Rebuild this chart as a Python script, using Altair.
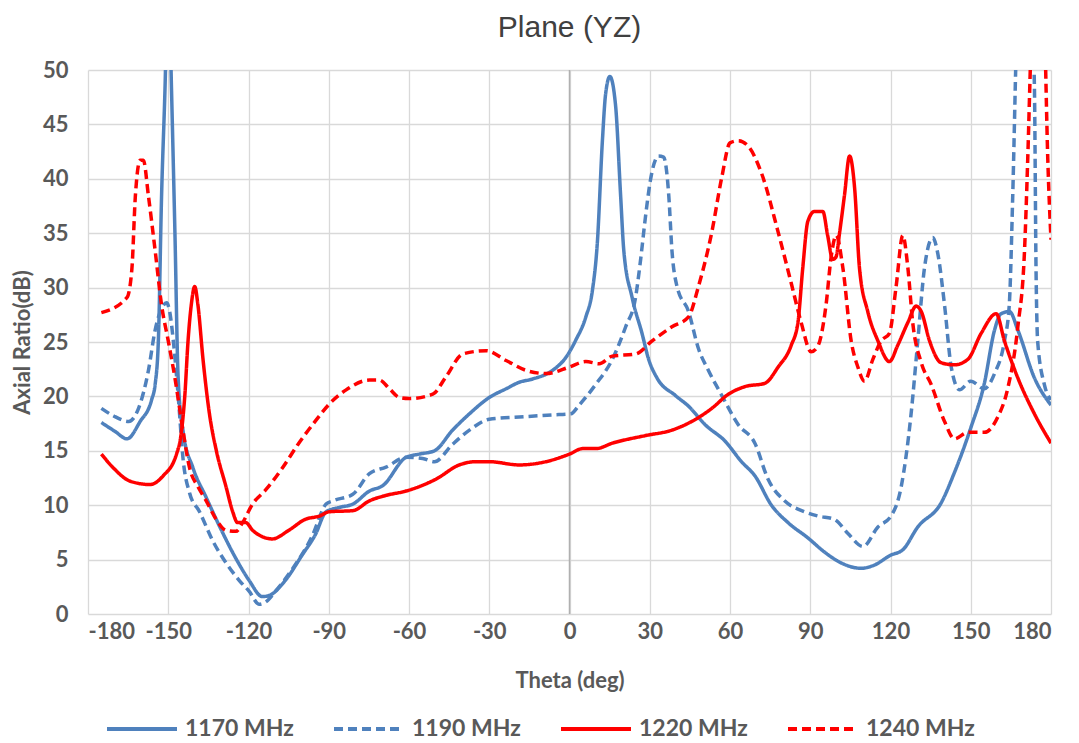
import altair as alt
import pandas as pd

series_names = ["1170 MHz", "1190 MHz", "1220 MHz", "1240 MHz"]

theta_1170 = [-175, -170, -165.4, -160.5, -156.2, -154.9, -153.7, -152.5, -151.2, -150, -148.8, -147.5, -146.3,
              -144.4, -140.7, -135.8, -130.9, -124.7, -119.8, -114.8, -112.3, -106.2, -100, -95, -91, -86, -81,
              -74.8, -69.8, -61.1, -56.1, -50.5, -43.7, -37.4, -30, -23.7, -18.8, -13.8, -6.3, -1.3, 2.4, 6.1,
              8.6, 10.4, 12.3, 13.5, 15.1, 17.2, 19.1, 20.3, 23.4, 27.1, 29.6, 32.7, 39.5, 44.5, 50.7, 58.1,
              64.3, 69.3, 75.5, 81.7, 89.1, 95.3, 101.5, 109, 114, 120, 124.6, 130.2, 138.9, 143.9, 150, 155,
              158.9, 161.3, 164.5, 167.6, 173.8, 180]
ar_1170 = [17.6, 16.8, 16.1, 17.7, 19.7, 21.1, 25.1, 38.4, 48.4, 60, 48.4, 35, 21.7,
           16.7, 13.4, 10.7, 8.1, 5.1, 3.1, 1.6, 1.7, 3.1, 5.4, 7.3, 9.4, 9.8, 10.1,
           11.3, 11.8, 14.4, 14.7, 15.0, 16.9, 18.4, 19.9, 20.7, 21.3, 21.6, 22.4, 23.6, 25.2, 27.3,
           29.8, 34.1, 43.5, 47.8, 49.4, 46.8, 38.5, 33.4, 29.1, 25.8, 23.4, 21.7, 20.1, 19.1, 17.4, 15.9,
           14.0, 12.7, 10.0, 8.4, 7.0, 5.7, 4.7, 4.2, 4.5, 5.4, 5.9, 8.0, 10.2, 13.0, 17.1, 21.1,
           26.1, 27.6, 27.8, 26.1, 21.7, 19.2]

theta_1190 = [-175, -170.4, -164.8, -161.1, -157.4, -154.9, -153.1, -150.6, -149.4, -148.1, -146.3, -144.4,
              -142, -138.3, -133.3, -128.4, -123.5, -119.8, -116, -113.6, -109.9, -103.7, -96.3, -91, -88.5,
              -81, -74.8, -68.6, -61.1, -54.9, -50.5, -43.7, -37.4, -30, -18.8, -6.3, 0.5, 3.6, 9.8, 16, 21,
              24.7, 26.5, 28.4, 30.2, 33.3, 35.2, 37.1, 38.3, 40.2, 44.5, 48.2, 51.9, 56.9, 63.1, 69.3, 74.2,
              80.4, 87.9, 93, 99, 104.1, 109.7, 115.3, 120.2, 124, 127.7, 130.2, 132.7, 135.8, 137.7, 140.2,
              142.7, 145.8, 150, 155, 158.9, 162.6, 164.4, 165.7, 167, 170.5, 173.8, 174.4, 175, 177.5, 180]
ar_1190 = [18.9, 18.2, 17.7, 18.9, 22.4, 26.1, 27.7, 28.6, 27.7, 25.1, 20.1, 14.1,
           11.1, 9.4, 6.7, 4.7, 3.1, 2.1, 0.9, 1.1, 2.1, 4.1, 7.1, 10.1, 10.4,
           11.0, 12.9, 13.5, 14.4, 14.3, 14.0, 15.6, 16.9, 17.9, 18.1, 18.3, 18.4, 19.2, 21.1, 23.4, 26.4,
           29.1, 32.4, 36.5, 39.8, 42.1, 42.0, 38.5, 33.4, 30.1, 27.8, 24.4, 22.4, 20.1, 17.4, 15.7, 12.4,
           10.4, 9.4, 9.0, 8.7, 7.4, 6.2, 8.0, 9.0, 11.7, 18.4, 25.1, 31.8, 34.6, 33.1, 28.4,
           22.7, 20.6, 21.4, 20.7, 22.1, 25.1, 28.4, 38.5, 52, 70, 48.5, 31.8, 25.1, 21.1, 19.7]

theta_1220 = [-175, -170.4, -164.2, -156.8, -151.9, -146.9, -145.1, -143.8, -142.6, -141.4, -140.1, -138.9,
              -137, -134.6, -132.1, -128.4, -125.9, -124.1, -121, -118.5, -114.8, -111.1, -104.9, -98.8,
              -93.5, -89.8, -81, -74.8, -68.6, -61.1, -49.9, -41.2, -35, -30, -18.8, -8.8, 0, 4.9, 9.9, 16,
              28.4, 38.3, 45.7, 53.2, 59.4, 65.6, 73, 78, 82.9, 85.4, 87.2, 89.1, 91.6, 94.7, 96.5, 98.4,
              99.6, 101, 102.8, 104.7, 106.6, 108.4, 111.5, 115.3, 119.6, 122.7, 126.5, 129.6, 131.5, 134.6,
              138.9, 143.9, 148.9, 153.9, 159.5, 162.6, 167.6, 173.8, 180]
ar_1220 = [14.7, 13.4, 12.2, 11.9, 12.7, 14.7, 16.7, 20.1, 25.1, 28.4, 30.1, 28.4,
           23.4, 18.4, 15.1, 11.7, 9.4, 8.4, 8.4, 7.7, 7.1, 6.9, 7.7, 8.7,
           9.0, 9.4, 9.5, 10.4, 10.9, 11.3, 12.4, 13.7, 14.0, 14.0, 13.7, 14.0, 14.7, 15.2, 15.2, 15.7,
           16.4, 16.9, 17.7, 18.9, 20.2, 20.9, 21.2, 22.7, 24.7, 26.8, 31.8, 36.1, 37.0, 37.0, 34.8, 32.6,
           32.8, 35.1, 38.5, 42.1, 39.1, 31.8, 27.8, 25.1, 23.2, 24.7, 26.8, 28.3, 27.8, 25.1,
           23.1, 22.9, 23.4, 25.8, 27.6, 25.1, 21.7, 18.4, 15.7]

theta_1240 = [-175, -165.4, -163.6, -162.3, -160.5, -159.3, -157.4, -154.9, -152.5, -150, -147.5, -144.4,
              -142, -138.9, -135.8, -132.1, -128.4, -124.7, -122.2, -118.5, -113.6, -107.4, -101.2, -95.1,
              -89.8, -83.5, -74.8, -71.1, -67.3, -63.6, -60.1, -51.1, -46.2, -39.9, -31.2, -23.7, -16.3,
              -8.8, 0, 6.1, 11.1, 16, 24.7, 30.9, 38.3, 44.5, 48.2, 53.2, 56.9, 60, 63.1, 66.8, 71.8, 78,
              82.9, 86.6, 90.3, 92.8, 95.9, 97.8, 99.7, 102.2, 105.3, 107.8, 110.3, 113.4, 116.5, 119.6,
              122.1, 124.6, 126.5, 128.3, 131.5, 135.2, 140.2, 143.9, 148.9, 155.1, 160.1, 163.8, 167.6,
              170.1, 171.3, 172.5, 175, 177.5, 178.8, 180]
ar_1240 = [27.7, 29.1, 31.7, 38.4, 41.7, 41.7, 38.4, 33.4, 28.4, 25.1, 21.7, 16.7,
           13.4, 11.7, 10.4, 8.7, 7.7, 7.6, 8.4, 10.1, 11.4, 13.4, 15.7, 17.7,
           19.3, 20.6, 21.5, 21.5, 20.7, 19.9, 19.8, 20.2, 21.8, 23.9, 24.2, 23.3, 22.4,
           22.1, 22.7, 23.2, 23.0, 23.7, 23.9, 25.1, 26.4, 27.3, 30.1, 35.1, 40.1, 43.3, 43.5, 43.0, 40.5, 35.1,
           30.4, 26.8, 24.1, 24.6, 28.4, 32.8, 34.8, 31.8, 25.1, 22.7, 21.4, 23.4, 25.1, 25.8,
           30.1, 34.8, 31.8, 26.8, 23.1, 21.1, 17.7, 16.1, 16.7, 16.7, 18.1, 20.7, 26.4,
           33.4, 41.8, 52, 65, 55, 41.8, 34.4]

x_ticks = list(range(-180, 181, 30))
y_ticks = list(range(0, 51, 5))

rows = []
for name, th, ar in zip(series_names,
                        [theta_1170, theta_1190, theta_1220, theta_1240],
                        [ar_1170, ar_1190, ar_1220, ar_1240]):
    for i, (t, v) in enumerate(zip(th, ar)):
        rows.append({"series": name, "theta": t, "ar": v, "order": i})
df = pd.DataFrame(rows)

color_scale = alt.Scale(domain=series_names, range=["#4F81BD", "#4F81BD", "#FF0000", "#FF0000"])
dash_scale = alt.Scale(domain=series_names, range=[[1, 0], [9, 5], [1, 0], [9, 5]])

x_enc = alt.X("theta:Q", scale=alt.Scale(domain=[-180, 180], nice=False),
              axis=alt.Axis(values=x_ticks, title="Theta (deg)", labelExpr="'' + datum.value"))
y_enc = alt.Y("ar:Q", scale=alt.Scale(domain=[0, 50], nice=False),
              axis=alt.Axis(values=y_ticks, title="Axial Ratio(dB)", labelExpr="'' + datum.value"))

zero_line = alt.Chart(pd.DataFrame({"theta": [0]})).mark_rule(
    color="#b0b0b0", strokeWidth=1.5
).encode(x=alt.X("theta:Q"))

lines = alt.Chart(df).mark_line(strokeWidth=3.5, interpolate="monotone", clip=True).encode(
    x=x_enc,
    y=y_enc,
    color=alt.Color("series:N", scale=color_scale, title=None),
    strokeDash=alt.StrokeDash("series:N", scale=dash_scale, title=None),
    order="order:Q",
)

chart = alt.layer(zero_line, lines).properties(
    width=963, height=544,
    title="Plane (YZ)",
    padding={"left": 3, "top": 5, "right": 5, "bottom": 5},
).configure_view(stroke=None).configure_axis(
    gridColor="#d9d9d9", gridWidth=1.3, domain=False, ticks=False,
    labelFont="Lato", labelFontWeight="bold", labelFontSize=22, labelColor="#595959",
    titleFont="Lato", titleFontWeight="bold", titleFontSize=22, titleColor="#595959",
).configure_axisX(labelPadding=7, titlePadding=28).configure_axisY(
    labelPadding=20, titlePadding=8
).configure_legend(
    orient="none", legendX=17, legendY=622, direction="horizontal",
    symbolType="stroke", symbolSize=4900, symbolStrokeWidth=4,
    labelFont="Lato", labelFontSize=23, labelFontWeight="bold", labelColor="#595959",
    columnPadding=32, labelOffset=6,
).configure_title(
    font="Liberation Sans", fontSize=30, fontWeight="normal", color="#404040", offset=16
)

chart.save("out.html", embed_options={"renderer": "svg", "actions": False})
